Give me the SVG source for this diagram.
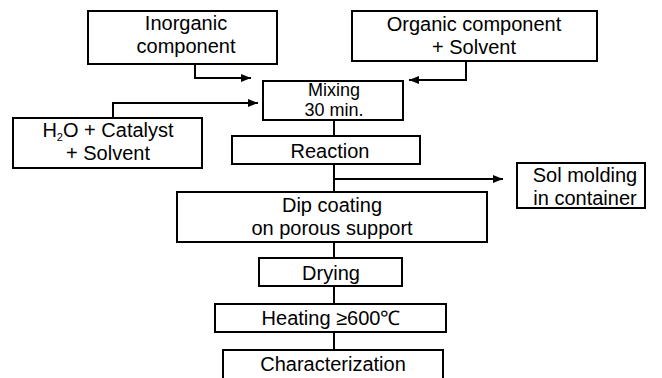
<svg xmlns="http://www.w3.org/2000/svg" width="662" height="378" viewBox="0 0 662 378">
<defs>
<marker id="ah" markerWidth="10" markerHeight="8" refX="10" refY="4" orient="auto" markerUnits="userSpaceOnUse">
<path d="M0,0 L10,4 L0,8 Z" fill="#000"/>
</marker>
<style>
.box{fill:#fff;stroke:#000;stroke-width:2}
.t{font-family:"Liberation Sans",Arial,sans-serif;font-size:20px;fill:#000;text-anchor:middle}
.s{font-size:18px}
.c{fill:none;stroke:#000;stroke-width:2}
</style>
</defs>
<rect width="662" height="378" fill="#fff"/>
<g id="connectors">
<polyline class="c" points="195,64 195,78 251,78" marker-end="url(#ah)"/>
<polyline class="c" points="466,61 466,80 409,80" marker-end="url(#ah)"/>
<polyline class="c" points="113,118 113,103 258,103" marker-end="url(#ah)"/>
<line class="c" x1="334" y1="120" x2="334" y2="136"/>
<line class="c" x1="334" y1="164" x2="334" y2="192"/>
<line class="c" x1="334" y1="179" x2="503" y2="179" marker-end="url(#ah)"/>
<line class="c" x1="334" y1="242" x2="334" y2="258"/>
<line class="c" x1="334" y1="286" x2="334" y2="304"/>
<line class="c" x1="334" y1="332" x2="334" y2="350"/>
</g>
<g id="inorganic">
<rect class="box" x="88" y="11" width="189" height="53"/>
<text class="t" x="186" y="30">Inorganic</text>
<text class="t" x="186" y="53">component</text>
</g>
<g id="organic">
<rect class="box" x="352" y="11" width="245" height="50"/>
<text class="t" x="474" y="31">Organic component</text>
<text class="t" x="474" y="54">+ Solvent</text>
</g>
<g id="mixing">
<rect class="box" x="263" y="81" width="140" height="39"/>
<text class="t s" x="334" y="96">Mixing</text>
<text class="t s" x="334" y="116">30 min.</text>
</g>
<g id="h2o">
<rect class="box" x="13" y="118" width="189" height="50"/>
<text class="t" x="108" y="137">H<tspan font-size="11" dy="4">2</tspan><tspan dy="-4">O + Catalyst</tspan></text>
<text class="t" x="108" y="160">+ Solvent</text>
</g>
<g id="reaction">
<rect class="box" x="232" y="136" width="188" height="28"/>
<text class="t" x="330" y="158">Reaction</text>
</g>
<g id="sol">
<rect class="box" x="517" y="163" width="128" height="45"/>
<text class="t" x="585" y="182">Sol molding</text>
<text class="t" x="585" y="205">in container</text>
</g>
<g id="dip">
<rect class="box" x="177" y="192" width="310" height="50"/>
<text class="t" x="332" y="212">Dip coating</text>
<text class="t" x="332" y="235">on porous support</text>
</g>
<g id="drying">
<rect class="box" x="259" y="258" width="143" height="28"/>
<text class="t" x="331" y="280">Drying</text>
</g>
<g id="heating">
<rect class="box" x="215" y="304" width="231" height="28"/>
<text class="t" x="331" y="325">Heating ≥600℃</text>
</g>
<g id="characterization">
<rect class="box" x="223" y="350" width="220" height="30"/>
<text class="t" x="333" y="371">Characterization</text>
</g>
</svg>
